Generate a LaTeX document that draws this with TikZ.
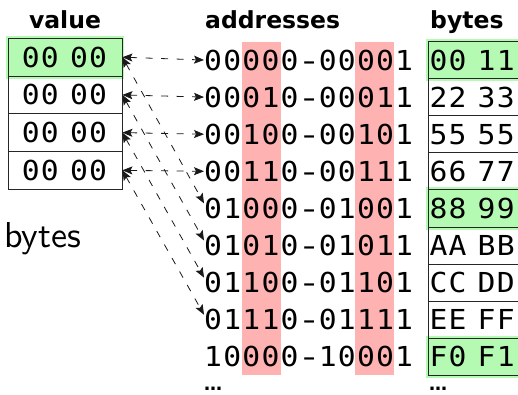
\documentclass[tikz,border=0pt]{standalone}
\usepackage{graphicx}
\usepackage{fontspec}
\setmainfont{DejaVu Sans}
\setmonofont{DejaVu Sans Mono}
\newfontfamily\lmsansten{lmsans10-regular.otf}
\usetikzlibrary{arrows.meta,backgrounds}
\definecolor{hlgreen}{RGB}{180,250,178}
\definecolor{bandred}{RGB}{255,178,178}

% fixed-pitch digits: every character gets a slot of equal width
\newlength\slotwd \setlength\slotwd{19.1pt}
\newcommand\slot[1]{\makebox[\slotwd][l]{\scalebox{1.08}[1]{#1}}}
\newcommand\dashslot{\makebox[\slotwd][c]{\scalebox{1.4}[1]{-}}}
\newcommand\spread[1]{\expandafter\spreadi#1\relax}
\def\spreadi#1{\ifx#1\relax\else\ifx#1-\dashslot\else\slot{#1}\fi\expandafter\spreadi\fi}
\newcommand\pair[2]{\spread{#1}\hspace{10pt}\spread{#2}}

\tikzset{
  mono/.style={font=\fontsize{27.5}{28}\selectfont\ttfamily},
  title/.style={font=\fontsize{23.5}{24}\selectfont\bfseries, inner sep=0pt},
  valbox/.style={mono, draw=black!85, line width=0.8pt, minimum width=114pt, minimum height=37.7pt, inner sep=0pt},
  bytebox/.style={draw=black!85, line width=0.8pt, anchor=west, minimum width=110pt, minimum height=37.1pt, inner sep=0pt},
  addr/.style={mono, anchor=west, inner sep=0pt},
  link/.style={dash pattern=on 7pt off 8.5pt, line width=0.8pt, draw=black!90,
    {Stealth[length=10pt,width=8pt,inset=2pt]}-{Stealth[length=10pt,width=8pt,inset=2pt]}},
  dots/.style={font=\fontsize{18}{18}\selectfont\bfseries, inner sep=0pt, anchor=base west},
}
\begin{document}
\begin{tikzpicture}[x=1pt,y=-1pt]
\useasboundingbox (0,0) rectangle (518,394);

% column titles
\node[title, anchor=base] (tval) at (65,28) {value};
\node[title, anchor=base west] (taddr) at (205,28) {addresses};
\node[title, anchor=base west] (tbytes) at (430,28) {bytes};
\node[font=\fontsize{36}{36}\selectfont\lmsansten, inner sep=0pt, anchor=base west] (lbytes) at (4,247) {bytes};

% value cells
\foreach \i in {1,...,4}
  \node[valbox] (v\i) at (65,{19.5+37.7*\i}) {\pair{00}{00}};

% address ranges
\foreach \a [count=\k from 0] in {00000-00001,00010-00011,00100-00101,00110-00111,01000-01001,01010-01011,01100-01101,01110-01111,10000-10001}
  \node[addr] (a\the\numexpr\k+1\relax) at (204,{60+37.1*\k}) {\spread{\a}};

% byte cells
\foreach \p/\q [count=\k from 0] in {00/11,22/33,55/55,66/77,88/99,AA/BB,CC/DD,EE/FF,F0/F1}{
  \node[bytebox] (b\the\numexpr\k+1\relax) at (428,{60+37.1*\k}) {};
  \node[addr] (bt\the\numexpr\k+1\relax) at (429.3,{60+37.1*\k}) {\pair{\p}{\q}};
}

% continuation marks
\node[dots] (moreA) at (204,390.5) {…};
\node[dots] (moreB) at (429,390.5) {…};

% highlighted cells and address bit columns
\begin{scope}[on background layer]
  \fill[hlgreen] ([shift={(-2,-2)}]v1.north west) rectangle ([shift={(2,2.5)}]v1.south east);
  \foreach \j in {1,5,9}
    \fill[hlgreen] ([shift={(-2,-2)}]b\j.north west) rectangle ([shift={(2,2.5)}]b\j.south east);
  \fill[bandred] (242,41.5) rectangle (281,375);
  \fill[bandred] (355.3,41.5) rectangle (394.3,375);
\end{scope}

% links from value cells to address ranges
\foreach \i in {1,...,4}{
  \draw[link] (v\i.east) -- (a\i.west);
  \draw[link] (v\i.east) -- ([yshift=5pt]a\the\numexpr\i+4\relax.west);
}
\end{tikzpicture}
\end{document}
